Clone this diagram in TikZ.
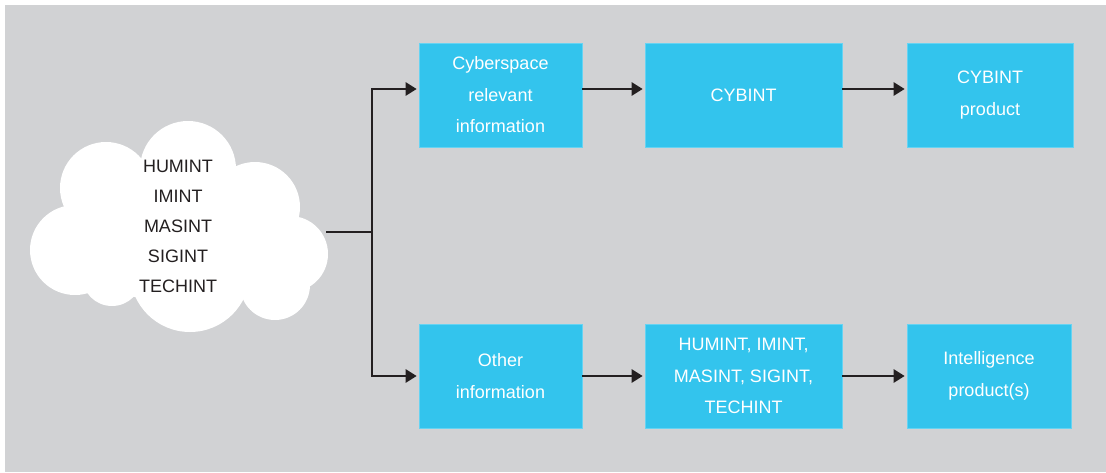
\documentclass[tikz,border=0pt]{standalone}
\usepackage{fontspec}
\setmainfont{Liberation Sans}
\usetikzlibrary{arrows.meta,calc}
\definecolor{bggray}{HTML}{D1D2D4}
\definecolor{boxblue}{HTML}{33C4ED}
\definecolor{ink}{HTML}{231F20}

\begin{document}
\begin{tikzpicture}[x=1pt,y=-1pt,
  box/.style={fill=boxblue, draw=boxblue!75!white, line width=0.6pt,
    minimum height=104pt, text=white, align=center, inner sep=0pt,
    font=\fontsize{18}{31.5}\selectfont},
  cloudtext/.style={align=center, text=ink, inner sep=0pt,
    font=\fontsize{18}{30}\selectfont},
  link/.style={draw=ink, line width=2.5pt},
  arr/.style={link, -{Triangle[length=11pt,width=13pt]}, shorten >=2pt}]

% page and background
\useasboundingbox (0,0) rectangle (1106,472);
\fill[bggray] (5,5) rectangle (1106,472);

% cloud built from overlapping lobes
\begin{scope}[fill=white]
  \fill (180,240) ellipse [x radius=115, y radius=62];
  \fill (188,169) circle [radius=48];
  \fill (106,188) circle [radius=46];
  \fill (75,250) circle [radius=45];
  \fill (112,276) circle [radius=30];
  \fill (190,272) circle [radius=60];
  \fill (275,285) circle [radius=35];
  \fill (290,254) circle [radius=38];
  \fill (255,207) circle [radius=45];
\end{scope}
\node[cloudtext] (src) at (178,226) {HUMINT\\IMINT\\MASINT\\SIGINT\\TECHINT};

% top row
\node[box, minimum width=163pt] (b1) at (500.5,95)
  {Cyberspace\\relevant\\information};
\node[box, minimum width=197pt] (b2) at (743.5,95) {CYBINT};
\node[box, minimum width=166pt] (b3) at (990,95) {CYBINT\\product};

% bottom row
\node[box, minimum width=163pt] (b4) at (500.5,376) {Other\\information};
\node[box, minimum width=197pt] (b5) at (743.5,376)
  {HUMINT, IMINT,\\MASINT, SIGINT,\\TECHINT};
\node[box, minimum width=164pt] (b6) at (989,376)
  {Intelligence\\product(s)};

% branching connector from the cloud
\coordinate (cl) at (326,232);
\coordinate (j) at (372,232);
\draw[link] (cl) -- (j);
\draw[arr] (j) |- ([yshift=6pt]b1.west);
\draw[arr] (j) |- (b4.west);

% flow along the rows
\draw[arr] ([yshift=6pt]b1.east) -- ([yshift=6pt]b2.west);
\draw[arr] ([yshift=6pt]b2.east) -- ([yshift=6pt]b3.west);
\draw[arr] (b4.east) -- (b5.west);
\draw[arr] (b5.east) -- (b6.west);
\end{tikzpicture}
\end{document}
